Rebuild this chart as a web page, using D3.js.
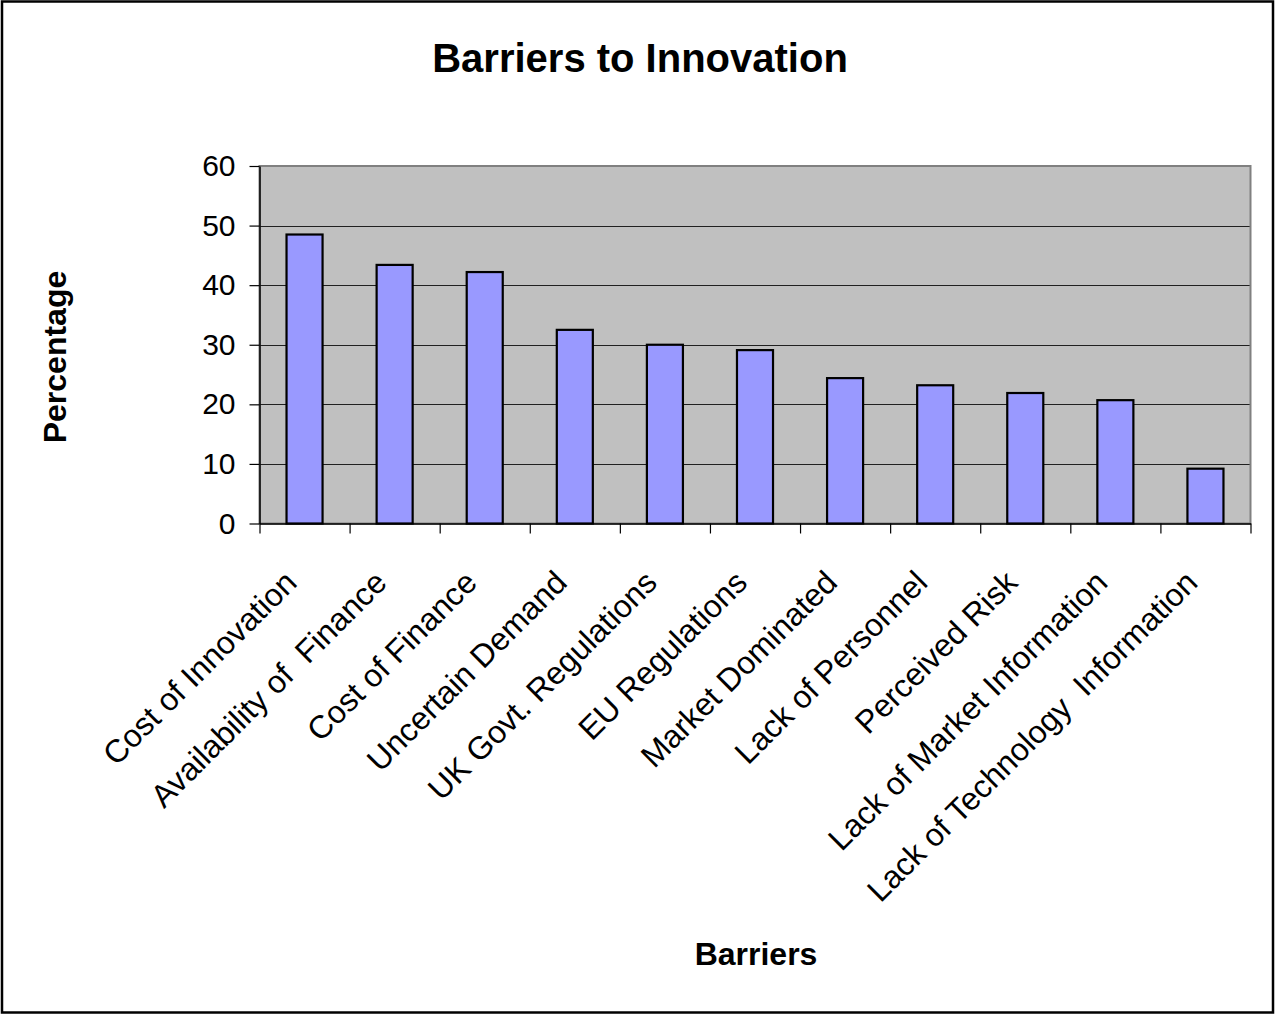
<!DOCTYPE html>
<html>
<head>
<meta charset="utf-8">
<script src="https://cdn.jsdelivr.net/npm/d3@7"></script>
<style>
  html, body { margin: 0; padding: 0; background: #fff; }
  svg { display: block; font-family: "Liberation Sans", Arial, sans-serif; }
  .cat text { white-space: pre; }
</style>
</head>
<body>
<svg id="chart" width="1275" height="1016"></svg>
<script>
// Survey results: share of firms citing each barrier
const categories = [
  "Cost of Innovation",
  "Availability of  Finance",
  "Cost of Finance",
  "Uncertain Demand",
  "UK Govt. Regulations",
  "EU Regulations",
  "Market Dominated",
  "Lack of Personnel",
  "Perceived Risk",
  "Lack of Market Information",
  "Lack of Technology  Information"
];
const percentages = [48.5, 43.4, 42.2, 32.5, 30.0, 29.1, 24.4, 23.2, 21.9, 20.7, 9.2];
const yTicks = [0, 10, 20, 30, 40, 50, 60];

const chartTitle = "Barriers to Innovation";
const xTitle = "Barriers";
const yTitle = "Percentage";

const W = 1275, H = 1016;
const plot = { left: 259.5, right: 1250.5, top: 166, bottom: 523.5 };

const svg = d3.select("#chart");

// outer frame
svg.append("rect")
  .attr("x", 2).attr("y", 1.5)
  .attr("width", W - 4).attr("height", H - 5)
  .attr("fill", "#fff").attr("stroke", "#000").attr("stroke-width", 2.5);

const x = d3.scaleBand()
  .domain(categories)
  .range([plot.left, plot.right])
  .paddingInner(0.6)
  .paddingOuter(0.3);

const xEdges = d3.scaleLinear()
  .domain([0, categories.length])
  .range([plot.left, plot.right]);

const y = d3.scaleLinear()
  .domain([0, 60])
  .range([plot.bottom, plot.top]);

// plot background
svg.append("rect")
  .attr("x", plot.left).attr("y", plot.top)
  .attr("width", plot.right - plot.left).attr("height", plot.bottom - plot.top)
  .attr("fill", "#c0c0c0");

// horizontal gridlines
svg.append("g")
  .selectAll("line")
  .data(yTicks.filter(d => d > 0 && d < 60))
  .join("line")
  .attr("x1", plot.left).attr("x2", plot.right)
  .attr("y1", d => Math.round(y(d)) + 0.5).attr("y2", d => Math.round(y(d)) + 0.5)
  .attr("stroke", "#202020").attr("stroke-width", 1.2);

// plot border
svg.append("rect")
  .attr("x", plot.left).attr("y", plot.top)
  .attr("width", plot.right - plot.left).attr("height", plot.bottom - plot.top)
  .attr("fill", "none").attr("stroke", "#808080").attr("stroke-width", 2);

// bars
svg.append("g")
  .selectAll("rect")
  .data(percentages)
  .join("rect")
  .attr("x", (d, i) => x(categories[i]))
  .attr("y", d => y(d))
  .attr("width", x.bandwidth())
  .attr("height", d => y(0) - y(d))
  .attr("fill", "#9999ff")
  .attr("stroke", "#000")
  .attr("stroke-width", 2.2);

// y axis
const yAxis = svg.append("g")
  .attr("transform", `translate(${plot.left},0)`)
  .call(d3.axisLeft(y).tickValues(yTicks).tickSize(10).tickPadding(14).tickSizeOuter(0));
yAxis.select(".domain").attr("stroke", "#000").attr("stroke-width", 1.5);
yAxis.selectAll(".tick line").attr("stroke", "#000").attr("stroke-width", 1.2);
yAxis.selectAll(".tick text")
  .attr("font-size", 30)
  .attr("font-family", "Liberation Sans, Arial, sans-serif")
  .attr("fill", "#000");

// x axis: tick marks at category boundaries
const xAxis = svg.append("g")
  .attr("transform", `translate(0,${plot.bottom})`)
  .call(d3.axisBottom(xEdges).tickValues(d3.range(categories.length + 1)).tickFormat("").tickSize(10).tickSizeOuter(0));
xAxis.select(".domain").attr("stroke", "#000").attr("stroke-width", 1.5);
xAxis.selectAll(".tick line").attr("stroke", "#000").attr("stroke-width", 1.2);

// x axis: rotated category labels
const catAxis = svg.append("g")
  .attr("class", "cat")
  .attr("transform", `translate(0,${plot.bottom})`)
  .call(d3.axisBottom(x).tickSize(0).tickPadding(0));
catAxis.select(".domain").remove();
catAxis.selectAll(".tick text")
  .attr("font-size", 32)
  .attr("font-family", "Liberation Sans, Arial, sans-serif")
  .attr("fill", "#000")
  .attr("text-anchor", "end")
  .attr("dy", null)
  .attr("y", 0)
  .attr("transform", "translate(-6,61) rotate(-45)");

// titles
svg.append("text")
  .attr("x", 640).attr("y", 72)
  .attr("text-anchor", "middle")
  .attr("font-size", 40).attr("font-weight", "bold")
  .text(chartTitle);

svg.append("text")
  .attr("x", 756).attr("y", 965)
  .attr("text-anchor", "middle")
  .attr("font-size", 32).attr("font-weight", "bold")
  .text(xTitle);

svg.append("text")
  .attr("transform", "translate(66,357) rotate(-90)")
  .attr("text-anchor", "middle")
  .attr("font-size", 32).attr("font-weight", "bold")
  .text(yTitle);
</script>
</body>
</html>
